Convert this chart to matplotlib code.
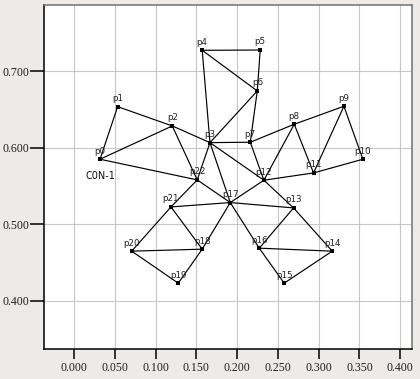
import matplotlib
matplotlib.use("Agg")
import matplotlib.pyplot as plt

# Node coordinates (p0 .. p22)
names = [f"p{i}" for i in range(23)]
xs = [0.0319, 0.0535, 0.1205, 0.1667, 0.1572, 0.2283, 0.2247, 0.2161,
      0.2700, 0.3309, 0.3542, 0.2937, 0.2328, 0.2692, 0.3166, 0.2577,
      0.2271, 0.1916, 0.1572, 0.1278, 0.0707, 0.1189, 0.1511]
ys = [0.5851, 0.6538, 0.6286, 0.6068, 0.7274, 0.7278, 0.6743, 0.6073,
      0.6308, 0.6543, 0.5851, 0.5672, 0.5577, 0.5215, 0.4650, 0.4232,
      0.4689, 0.5285, 0.4676, 0.4232, 0.4650, 0.5228, 0.5581]

# Edges (pairs of node indices)
edge_a = [0, 1, 0, 0, 2, 2, 3, 3, 4, 4, 5, 3, 6, 3, 7, 7, 8, 8, 8, 9, 9, 10,
          11, 3, 3, 22, 22, 12, 12, 17, 17, 17, 17, 21, 21, 20, 20, 19,
          13, 13, 16, 16, 15]
edge_b = [1, 2, 2, 22, 22, 3, 22, 4, 5, 6, 6, 6, 7, 7, 8, 12, 12, 9, 11, 11, 10, 11,
          12, 12, 17, 17, 21, 17, 13, 21, 13, 18, 16, 18, 20, 18, 19, 18,
          16, 14, 14, 15, 14]

xticks = [0.000, 0.050, 0.100, 0.150, 0.200, 0.250, 0.300, 0.350, 0.400]
yticks = [0.400, 0.500, 0.600, 0.700]
group_label = "C0N-1"

fig = plt.figure(figsize=(4.2, 3.79), dpi=100, facecolor="#EDEAE7")
ax = fig.add_axes([0.1055, 0.0792, 0.8743, 0.9068])
ax.set_facecolor("white")

for a, b in zip(edge_a, edge_b):
    ax.plot([xs[a], xs[b]], [ys[a], ys[b]], color="black", lw=0.85,
            solid_capstyle="butt", zorder=3)

ax.scatter(xs, ys, marker="s", s=5, color="black", zorder=4, linewidths=0)

for n, x, y in zip(names, xs, ys):
    ax.annotate(n, (x, y), xytext=(0, 2.6), textcoords="offset points",
                ha="center", va="bottom", fontsize=6.3, color="#222222",
                family="DejaVu Sans", zorder=5)

ax.text(0.0135, 0.5587, group_label, ha="left", va="baseline", fontsize=7,
        color="#111111", family="DejaVu Sans", zorder=5)

ax.set_xlim(-0.0364, 0.4138)
ax.set_ylim(0.3372, 0.7862)
ax.set_xticks(xticks)
ax.set_yticks(yticks)
ax.set_xticklabels([f"{v:.3f}" for v in xticks])
ax.set_yticklabels([f"{v:.3f}" for v in yticks])

ax.grid(True, color="#C8C8C8", lw=0.8, zorder=0)
ax.set_axisbelow(True)

ax.tick_params(axis="y", direction="out", length=10, width=1.1, pad=0.5,
               colors="black", labelcolor="#222222", labelsize=8.6)
ax.tick_params(axis="x", direction="out", length=7.2, width=1.1, pad=2.5,
               colors="black", labelcolor="#222222", labelsize=8.6)
for lab in ax.get_xticklabels() + ax.get_yticklabels():
    lab.set_family("Liberation Serif")

for side in ("left", "bottom"):
    ax.spines[side].set_color("black")
    ax.spines[side].set_linewidth(1.1)
for side in ("top", "right"):
    ax.spines[side].set_color("#707070")
    ax.spines[side].set_linewidth(1.1)

fig.savefig("out.png", dpi=100, facecolor=fig.get_facecolor())
